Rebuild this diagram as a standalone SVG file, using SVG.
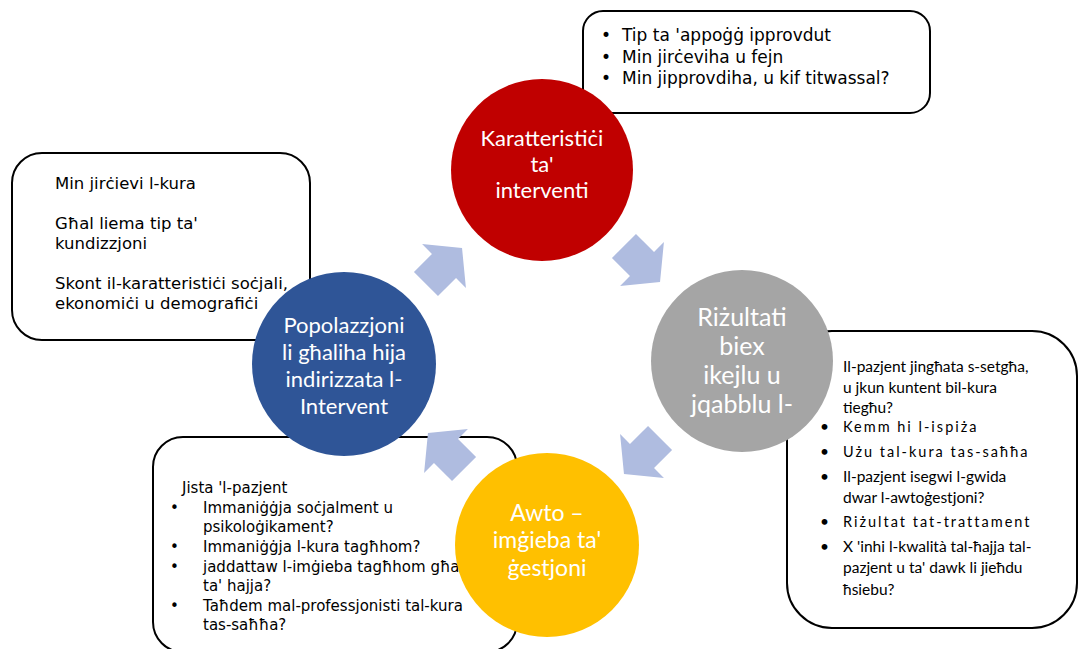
<svg xmlns="http://www.w3.org/2000/svg" width="1080" height="649" viewBox="0 0 1080 649">
<style>
.box{fill:#fff;stroke:#000;stroke-width:2}
.ct{fill:#fff;font-family:Lato,"Open Sans",sans-serif;text-anchor:middle}
.v{font-family:"DejaVu Sans",Verdana,sans-serif;fill:#000}
.c{font-family:Lato,"Liberation Sans",sans-serif;fill:#000}
.arrow{fill:#AFBCE0}
</style>
<defs>
<polygon id="arr" points="-25.5,-17 0,-17 0,-31 25.5,0 0,31 0,17 -25.5,17"/>
</defs>
<rect width="1080" height="649" fill="#fff"/>

<g id="box-top">
<rect class="box" x="583" y="11" width="347" height="102" rx="20"/>
<text class="v" font-size="17"><tspan x="601" y="41">•</tspan><tspan x="622" y="41">Tip ta 'appoġġ ipprovdut</tspan><tspan x="601" y="63">•</tspan><tspan x="622" y="63">Min jirċeviha u fejn</tspan><tspan x="601" y="84">•</tspan><tspan x="622" y="84">Min jipprovdiha, u kif titwassal?</tspan></text>
</g>

<g id="box-left">
<rect class="box" x="12" y="153" width="298" height="187" rx="30"/>
<text class="v" font-size="16.5"><tspan x="55" y="189">Min jirċievi l-kura</tspan><tspan x="55" y="229">Għal liema tip ta'</tspan><tspan x="55" y="249">kundizzjoni</tspan><tspan x="55" y="289">Skont il-karatteristiċi soċjali,</tspan><tspan x="55" y="309">ekonomiċi u demografiċi</tspan></text>
</g>

<g id="box-right">
<rect class="box" x="787" y="331" width="290" height="297" rx="45"/>
<text class="c" font-size="15.5"><tspan x="843" y="372">Il-pazjent jingħata s-setgħa,</tspan><tspan x="843" y="393">u jkun kuntent bil-kura</tspan><tspan x="843" y="413">tiegħu?</tspan></text>
<text class="c" font-size="15.5"><tspan x="820" y="432">•</tspan><tspan x="820" y="457">•</tspan><tspan x="820" y="482">•</tspan><tspan x="820" y="527">•</tspan><tspan x="820" y="552">•</tspan></text>
<text class="c" font-size="14.5" letter-spacing="2"><tspan x="843" y="432">Kemm hi l-ispiża</tspan><tspan x="843" y="457">Użu tal-kura tas-saħħa</tspan><tspan x="843" y="527">Riżultat tat-trattament</tspan></text>
<text class="c" font-size="15.5"><tspan x="843" y="482">Il-pazjent isegwi l-gwida</tspan><tspan x="843" y="503">dwar l-awtoġestjoni?</tspan><tspan x="843" y="552">X 'inhi l-kwalità tal-ħajja tal-</tspan><tspan x="843" y="573">pazjent u ta' dawk li jieħdu</tspan><tspan x="843" y="595">ħsiebu?</tspan></text>
</g>

<g id="box-bottom">
<rect class="box" x="153" y="437" width="364" height="215" rx="30"/>
<text class="v" font-size="15"><tspan x="182" y="493">Jista 'l-pazjent</tspan><tspan x="170" y="513">•</tspan><tspan x="203" y="513">Immaniġġja soċjalment u</tspan><tspan x="203" y="532">psikoloġikament?</tspan><tspan x="170" y="552">•</tspan><tspan x="203" y="552">Immaniġġja l-kura tagħhom?</tspan><tspan x="170" y="572">•</tspan><tspan x="203" y="572">jaddattaw l-imġieba tagħhom għal</tspan><tspan x="203" y="591">ta' hajja?</tspan><tspan x="170" y="611">•</tspan><tspan x="203" y="611">Taħdem mal-professjonisti tal-kura</tspan><tspan x="203" y="630">tas-saħħa?</tspan></text>
</g>

<g id="connectors">
<use href="#arr" class="arrow" transform="translate(444,266) rotate(-45)"/>
<use href="#arr" class="arrow" transform="translate(642,264) rotate(45)"/>
<use href="#arr" class="arrow" transform="translate(642,456) rotate(135)"/>
<use href="#arr" class="arrow" transform="translate(446,451) rotate(-135)"/>
</g>

<g id="node-karatteristici">
<circle cx="542" cy="170" r="91" fill="#C00000"/>
<text class="ct" font-size="22"><tspan x="542" y="146">Karatteristiċi</tspan><tspan x="542" y="172">ta'</tspan><tspan x="542" y="198">interventi</tspan></text>
</g>

<g id="node-rizultati">
<circle cx="742" cy="361" r="91" fill="#A5A5A5"/>
<text class="ct" font-size="25"><tspan x="742" y="326">Riżultati</tspan><tspan x="742" y="355">biex</tspan><tspan x="742" y="384">ikejlu u</tspan><tspan x="742" y="413">jqabblu l-</tspan></text>
</g>

<g id="node-popolazzjoni">
<circle cx="344" cy="364" r="92" fill="#2F5597"/>
<text class="ct" font-size="22"><tspan x="344" y="333">Popolazzjoni</tspan><tspan x="344" y="360">li għaliha hija</tspan><tspan x="344" y="387">indirizzata l-</tspan><tspan x="344" y="414">Intervent</tspan></text>
</g>

<g id="node-awto">
<circle cx="547" cy="545" r="92" fill="#FFC000"/>
<text class="ct" font-size="23"><tspan x="547" y="521">Awto –</tspan><tspan x="547" y="548">imġieba ta'</tspan><tspan x="547" y="576">ġestjoni</tspan></text>
</g>
</svg>
